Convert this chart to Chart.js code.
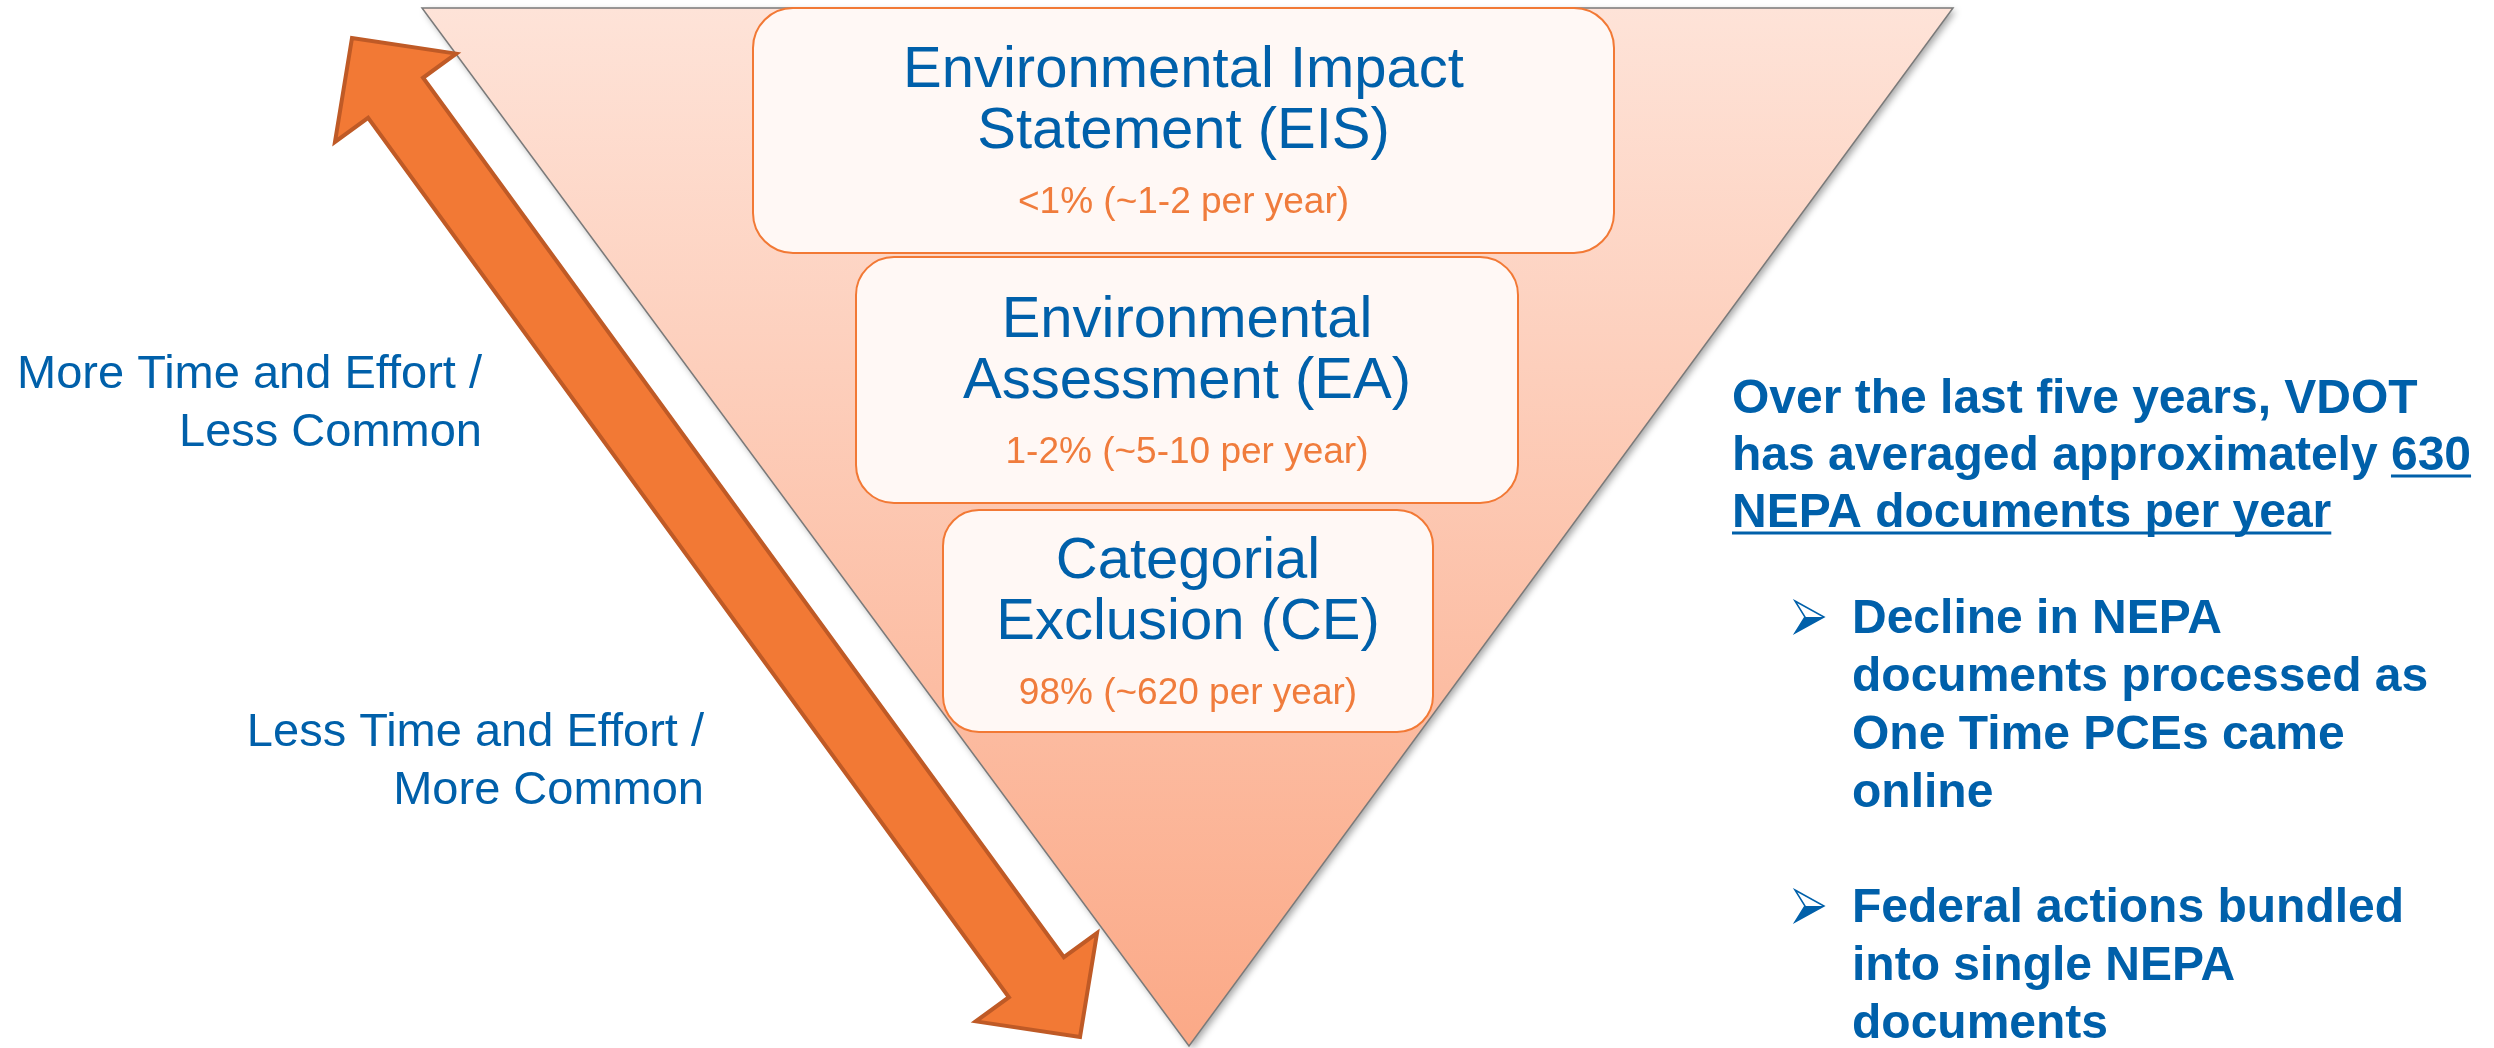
<!DOCTYPE html>
<html>
<head>
<meta charset="utf-8">
<title>VDOT NEPA documents</title>
<script src="https://cdn.jsdelivr.net/npm/chart.js@4.4.1/dist/chart.umd.min.js"></script>
<style>
  html, body { margin: 0; padding: 0; background: #fff; overflow: hidden; }
  canvas { display: block; }
</style>
</head>
<body>
<canvas id="pyramid" width="2494" height="1048"></canvas>
<script>
// document types, top (rarest) to bottom (most common)
const levelTitles = [
  ["Environmental Impact", "Statement (EIS)"],
  ["Environmental", "Assessment (EA)"],
  ["Categorial", "Exclusion (CE)"]
];
const levelShares = ["<1%", "1-2%", "98%"];
const levelPerYear = ["~1-2", "~5-10", "~620"];
const avgPerYear = 630;

const sideLabels = [
  ["More Time and Effort /", "Less Common"],
  ["Less Time and Effort /", "More Common"]
];
const bullets = [
  ["Decline in NEPA", "documents processed as", "One Time PCEs came", "online"],
  ["Federal actions bundled", "into single NEPA", "documents"]
];

// layout (canvas units)
const BLUE = "#0060aa";
const ORANGE = "#f07c3c";
const FONT = '"Liberation Sans", Arial, sans-serif';
const tri = { left: 422, right: 1953, top: 8, apexX: 1189, apexY: 1046 };
const boxes = [
  { x0: 753, x1: 1614, y0: 8, y1: 253, base: 87, r: 40 },
  { x0: 856, x1: 1518, y0: 257, y1: 503, base: 337, r: 38 },
  { x0: 943, x1: 1433, y0: 510, y1: 732, base: 578, r: 36 }
];
const arrow = { x1: 352, y1: 38, x2: 1080, y2: 1037, head: 74, headHalf: 75, shaftHalf: 34 };
const sidePos = [{ right: 482, base: 388 }, { right: 704, base: 746 }];
const summaryPos = { x: 1732, base: 413, step: 57 };
const bulletPos = { mark: 1795, x: 1852, bases: [633, 922], step: 58 };

function roundRect(ctx, x0, y0, x1, y1, r) {
  ctx.beginPath();
  ctx.moveTo(x0 + r, y0);
  ctx.lineTo(x1 - r, y0);
  ctx.arcTo(x1, y0, x1, y0 + r, r);
  ctx.lineTo(x1, y1 - r);
  ctx.arcTo(x1, y1, x1 - r, y1, r);
  ctx.lineTo(x0 + r, y1);
  ctx.arcTo(x0, y1, x0, y1 - r, r);
  ctx.lineTo(x0, y0 + r);
  ctx.arcTo(x0, y0, x0 + r, y0, r);
  ctx.closePath();
}

const diagramPlugin = {
  id: "diagram",
  afterDraw(chart) {
    const ctx = chart.ctx;
    const X = v => chart.scales.x.getPixelForValue(v);
    const Y = v => chart.scales.y.getPixelForValue(v);

    // inverted triangle
    ctx.save();
    const grad = ctx.createLinearGradient(0, Y(tri.top), 0, Y(tri.apexY));
    grad.addColorStop(0, "#fee3d8");
    grad.addColorStop(1, "#fba987");
    ctx.beginPath();
    ctx.moveTo(X(tri.left), Y(tri.top));
    ctx.lineTo(X(tri.right), Y(tri.top));
    ctx.lineTo(X(tri.apexX), Y(tri.apexY));
    ctx.closePath();
    ctx.shadowColor = "rgba(0,0,0,0.35)";
    ctx.shadowBlur = 7;
    ctx.shadowOffsetX = 3;
    ctx.shadowOffsetY = 3;
    ctx.fillStyle = grad;
    ctx.fill();
    ctx.shadowColor = "transparent";
    ctx.strokeStyle = "#7a7a7a";
    ctx.lineWidth = 1.5;
    ctx.stroke();
    ctx.restore();

    // level boxes
    boxes.forEach((b, i) => {
      ctx.save();
      roundRect(ctx, X(b.x0), Y(b.y0), X(b.x1), Y(b.y1), b.r);
      ctx.fillStyle = "#fff8f5";
      ctx.fill();
      ctx.strokeStyle = "#f27935";
      ctx.lineWidth = 2;
      ctx.stroke();
      const cx = X((b.x0 + b.x1) / 2);
      ctx.textAlign = "center";
      ctx.textBaseline = "alphabetic";
      ctx.fillStyle = BLUE;
      ctx.font = "58px " + FONT;
      levelTitles[i].forEach((t, k) => ctx.fillText(t, cx, Y(b.base + k * 61)));
      ctx.fillStyle = ORANGE;
      ctx.font = "37px " + FONT;
      ctx.fillText(`${levelShares[i]} (${levelPerYear[i]} per year)`, cx, Y(b.base + 126));
      ctx.restore();
    });

    // double-headed arrow
    const dx = arrow.x2 - arrow.x1, dy = arrow.y2 - arrow.y1;
    const len = Math.hypot(dx, dy);
    const ux = dx / len, uy = dy / len, nx = -uy, ny = ux;
    const pt = (bx, by, a, s) => [bx + ux * a + nx * s, by + uy * a + ny * s];
    const pts = [
      [arrow.x1, arrow.y1],
      pt(arrow.x1, arrow.y1, arrow.head, arrow.headHalf),
      pt(arrow.x1, arrow.y1, arrow.head, arrow.shaftHalf),
      pt(arrow.x2, arrow.y2, -arrow.head, arrow.shaftHalf),
      pt(arrow.x2, arrow.y2, -arrow.head, arrow.headHalf),
      [arrow.x2, arrow.y2],
      pt(arrow.x2, arrow.y2, -arrow.head, -arrow.headHalf),
      pt(arrow.x2, arrow.y2, -arrow.head, -arrow.shaftHalf),
      pt(arrow.x1, arrow.y1, arrow.head, -arrow.shaftHalf),
      pt(arrow.x1, arrow.y1, arrow.head, -arrow.headHalf)
    ];
    ctx.save();
    ctx.beginPath();
    pts.forEach((p, i) => i ? ctx.lineTo(X(p[0]), Y(p[1])) : ctx.moveTo(X(p[0]), Y(p[1])));
    ctx.closePath();
    ctx.fillStyle = "#f27935";
    ctx.fill();
    ctx.strokeStyle = "#bf5a26";
    ctx.lineWidth = 4;
    ctx.lineJoin = "miter";
    ctx.stroke();
    ctx.restore();

    // side labels
    ctx.save();
    ctx.fillStyle = BLUE;
    ctx.font = "47px " + FONT;
    ctx.textAlign = "right";
    sideLabels.forEach((lines, i) => {
      lines.forEach((t, k) => ctx.fillText(t, X(sidePos[i].right), Y(sidePos[i].base + k * 58)));
    });
    ctx.restore();

    // summary text
    ctx.save();
    ctx.fillStyle = BLUE;
    ctx.strokeStyle = BLUE;
    ctx.lineWidth = 3;
    ctx.font = "bold 48px " + FONT;
    ctx.textAlign = "left";
    const sx = X(summaryPos.x);
    const l1 = "Over the last five years, VDOT";
    const l2a = "has averaged approximately ";
    const l2b = String(avgPerYear);
    const l3 = "NEPA documents per year";
    const b1 = Y(summaryPos.base), b2 = Y(summaryPos.base + summaryPos.step), b3 = Y(summaryPos.base + 2 * summaryPos.step);
    ctx.fillText(l1, sx, b1);
    ctx.fillText(l2a, sx, b2);
    const wa = ctx.measureText(l2a).width;
    const wb = ctx.measureText(l2b).width;
    ctx.fillText(l2b, sx + wa, b2);
    ctx.beginPath();
    ctx.moveTo(sx + wa, b2 + 6); ctx.lineTo(sx + wa + wb, b2 + 6);
    ctx.moveTo(sx, b3 + 6); ctx.lineTo(sx + ctx.measureText(l3).width, b3 + 6);
    ctx.stroke();
    ctx.fillText(l3, sx, b3);

    // bullets
    bullets.forEach((lines, i) => {
      const base = bulletPos.bases[i];
      lines.forEach((t, k) => ctx.fillText(t, X(bulletPos.x), Y(base + k * bulletPos.step)));
      const mx = X(bulletPos.mark), my = Y(base - 32);
      ctx.lineWidth = 1.5;
      ctx.beginPath();
      ctx.moveTo(mx + 10, my + 16);
      ctx.lineTo(mx + 29, my + 16);
      ctx.lineTo(mx, my + 32);
      ctx.closePath();
      ctx.fill();
      ctx.beginPath();
      ctx.moveTo(mx, my);
      ctx.lineTo(mx + 29, my + 16);
      ctx.lineTo(mx, my + 32);
      ctx.lineTo(mx + 10, my + 16);
      ctx.closePath();
      ctx.stroke();
    });
    ctx.restore();
  }
};

new Chart(document.getElementById("pyramid"), {
  type: "scatter",
  data: { datasets: [] },
  options: {
    responsive: false,
    animation: false,
    layout: { padding: 0 },
    plugins: { legend: { display: false }, tooltip: { enabled: false } },
    scales: {
      x: { type: "linear", min: 0, max: 2494, display: false },
      y: { type: "linear", min: 0, max: 1048, reverse: true, display: false }
    }
  },
  plugins: [diagramPlugin]
});
</script>
</body>
</html>
